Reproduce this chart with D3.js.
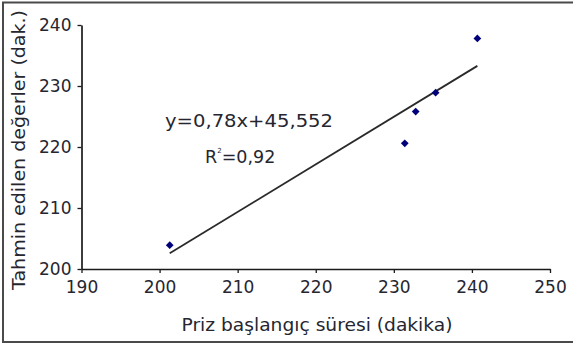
<!DOCTYPE html>
<html><head><meta charset="utf-8">
<script src="https://cdn.jsdelivr.net/npm/d3@7"></script>
<style>body{margin:0;background:#fff}svg{display:block}</style>
</head><body>
<script>
const xValues = [201.3, 231.4, 232.8, 235.35, 240.7];
const yValues = [203.9, 220.6, 225.8, 228.9, 237.8];
const xTicks = [190, 200, 210, 220, 230, 240, 250];
const yTicks = [200, 210, 220, 230, 240];
const slope = 0.78, intercept = 45.552;
const equationText = "y=0,78x+45,552";
const r2Label = "0,92";
const xTitle = "Priz başlangıç süresi (dakika)";
const yTitle = "Tahmin edilen değerler (dak.)";

const W = 573, H = 349;
const svg = d3.select("body").append("svg").attr("width", W).attr("height", H);
const font = "DejaVu Sans";
const txt = "#262630";

// outer frame
svg.append("rect").attr("x", 3).attr("y", 2.5).attr("width", 580).attr("height", 339.5)
  .attr("fill", "none").attr("stroke", "#4a4a4a").attr("stroke-width", 2);

const x = d3.scaleLinear().domain([190, 250]).range([81.5, 550]);
const y = d3.scaleLinear().domain([200, 240]).range([269, 25]);

const gx = svg.append("g").attr("transform", `translate(0,${y(200)})`)
  .call(d3.axisBottom(x).tickValues(xTicks).tickSize(4).tickSizeOuter(0).tickPadding(8));
const gy = svg.append("g").attr("transform", `translate(${x(190)},0)`)
  .call(d3.axisLeft(y).tickValues(yTicks).tickSize(4).tickSizeOuter(0).tickPadding(6));
[gx, gy].forEach(g => {
  g.select(".domain").attr("stroke", "#1a1a1a").attr("stroke-width", 1.7);
  g.selectAll(".tick line").attr("stroke", "#1a1a1a").attr("stroke-width", 1.3);
  g.selectAll(".tick text").attr("font-family", font).attr("font-size", 17).attr("fill", txt);
});
gx.selectAll(".tick text").attr("dy", "0.72em");

// trendline
const xmin = d3.min(xValues), xmax = d3.max(xValues);
svg.append("line")
  .attr("x1", x(xmin)).attr("y1", y(slope * xmin + intercept))
  .attr("x2", x(xmax)).attr("y2", y(slope * xmax + intercept))
  .attr("stroke", "#2a2a2a").attr("stroke-width", 1.8);

// points
const sym = d3.symbol().type(d3.symbolSquare).size(30);
svg.selectAll("path.pt").data(xValues.map((v, i) => [v, yValues[i]])).join("path")
  .attr("class", "pt").attr("d", sym)
  .attr("transform", d => `translate(${x(d[0])},${y(d[1])}) rotate(45)`)
  .attr("fill", "#00007a");

// equation
svg.append("text").attr("x", 165).attr("y", 127).attr("font-family", font).attr("font-size", 17.5)
  .attr("fill", txt).attr("textLength", 168).attr("lengthAdjust", "spacingAndGlyphs").text(equationText);
const r2 = svg.append("text").attr("x", 205).attr("y", 163).attr("font-family", font).attr("font-size", 17.5).attr("fill", txt);
r2.append("tspan").text("R");
r2.append("tspan").attr("font-size", 7).attr("dy", -10).text("2");
r2.append("tspan").attr("dy", 10).text("=" + r2Label);

// axis titles
svg.append("text").attr("x", 317).attr("y", 331).attr("text-anchor", "middle")
  .attr("font-family", font).attr("font-size", 17).attr("fill", txt)
  .attr("textLength", 271).attr("lengthAdjust", "spacingAndGlyphs").text(xTitle);
svg.append("text").attr("transform", "translate(25,150) rotate(-90)").attr("text-anchor", "middle")
  .attr("font-family", font).attr("font-size", 17).attr("fill", txt)
  .attr("textLength", 280).attr("lengthAdjust", "spacingAndGlyphs").text(yTitle);
</script>
</body></html>
